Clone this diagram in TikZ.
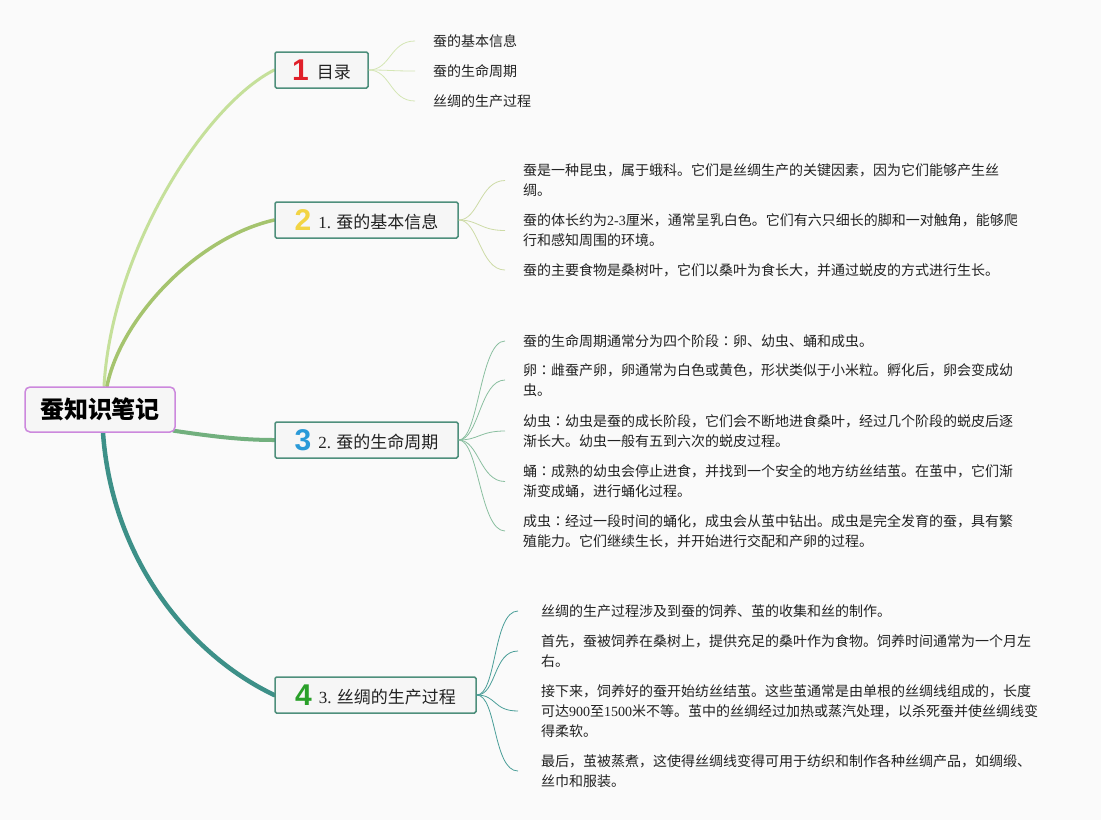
\documentclass[tikz,border=0pt]{standalone}
\usepackage{fontspec}
\setmainfont{Noto Sans CJK SC}
\newfontfamily\jpf{Noto Sans CJK JP}
\newfontfamily\latf{Liberation Serif}
\newfontfamily\numfont{Liberation Sans}
\pgfdeclarelayer{backdrop}
\pgfdeclarelayer{links}
\pgfsetlayers{backdrop,links,main}
\definecolor{bg}{HTML}{FAFAFA}
\definecolor{rootc}{HTML}{CC88DD}
\definecolor{rootfill}{HTML}{F6F6F6}
\definecolor{boxc}{HTML}{4E8F7C}
\definecolor{boxfill}{HTML}{F6F6F6}
\definecolor{txt}{HTML}{222222}
\definecolor{mainA}{HTML}{C5E09A}
\definecolor{mainB}{HTML}{A5C46E}
\definecolor{mainC}{HTML}{72B07E}
\definecolor{mainD}{HTML}{3D9088}
\definecolor{subA}{HTML}{D4E6B4}
\definecolor{subB}{HTML}{CDDBA6}
\definecolor{subC}{HTML}{8ABFA0}
\definecolor{subD}{HTML}{4A9E98}
\definecolor{numA}{HTML}{E0202A}
\definecolor{numB}{HTML}{F2D444}
\definecolor{numC}{HTML}{2A9AD8}
\definecolor{numD}{HTML}{2AA02A}
\newcommand\bignum[2]{\raisebox{-2pt}{\numfont\bfseries\fontsize{30}{30}\selectfont\color{#1}#2}}
\newcommand\la[1]{{\latf #1}}
\newcommand\cl{{\jpf ：}}
\begin{document}
\begin{tikzpicture}[x=1pt,y=-1pt,
  every node/.style={inner sep=0pt},
  rootbox/.style={draw=rootc, line width=1.5pt, fill=rootfill, rounded corners=5pt,
    minimum width=150pt, minimum height=45pt, font=\fontsize{24}{28}\selectfont\bfseries, text=black},
  branch/.style={draw=boxc, line width=1.5pt, fill=boxfill, rounded corners=1.5pt,
    minimum height=36pt, font=\fontsize{17}{20}\selectfont, text=txt},
  item/.style={anchor=west, align=left, inner xsep=18pt, font=\fontsize{14}{20}\selectfont, text=txt},
  itemw/.style={item, inner xsep=23pt},
  mainline/.style={line cap=round},
  subline/.style={line width=0.8pt}
]
\begin{pgfonlayer}{backdrop}
\fill[bg] (0,0) rectangle (1101,820);
\end{pgfonlayer}
\useasboundingbox (0,0) rectangle (1101,820);

% root and branches
\node[rootbox] (root) at (100,409.5) {蚕知识笔记};
\node[branch, minimum width=93pt] (b1) at (321.5,70) {\bignum{numA}{1}\hspace{8pt}目录};
\node[branch, minimum width=183pt] (b2) at (366.5,220) {\bignum{numB}{2}\hspace{7pt}\la{1.} 蚕的基本信息};
\node[branch, minimum width=183pt] (b3) at (366.5,440) {\bignum{numC}{3}\hspace{7pt}\la{2.} 蚕的生命周期};
\node[branch, minimum width=201pt] (b4) at (375.5,695) {\bignum{numD}{4}\hspace{7pt}\la{3.} 丝绸的生产过程};

% main connectors (behind the nodes)
\begin{pgfonlayer}{links}
\draw[mainline, mainA, line width=3pt] (root.north) ++(4,0) coordinate (r1) .. controls (112,250) and (205,105) .. (b1.west);
\draw[mainline, mainB, line width=3.5pt] (root.north) ++(7,0) coordinate (r2) .. controls (120,320) and (195,238) .. (b2.west);
\draw[mainline, mainC, line width=4pt] (root.south east) ++(-2,-2) coordinate (r3) .. controls (210,436) and (240,440) .. (b3.west);
\draw[mainline, mainD, line width=4.5pt] (root.south) ++(3,0) coordinate (r4) .. controls (112,560) and (190,655) .. (b4.west);
\end{pgfonlayer}

% branch 1 items
\node[item] (t11) at (415,41) {蚕的基本信息};
\node[item] (t12) at (415,71) {蚕的生命周期};
\node[item] (t13) at (415,101) {丝绸的生产过程};

% branch 2 items
\node[item] (t21) at (505,180.5) {蚕是一种昆虫，属于蛾科。它们是丝绸生产的关键因素，因为它们能够产生丝\\绸。};
\node[item] (t22) at (505,230.5) {蚕的体长约为\la{2-3}厘米，通常呈乳白色。它们有六只细长的脚和一对触角，能够爬\\行和感知周围的环境。};
\node[item] (t23) at (505,270) {蚕的主要食物是桑树叶，它们以桑叶为食长大，并通过蜕皮的方式进行生长。};

% branch 3 items
\node[item] (t31) at (505,341) {蚕的生命周期通常分为四个阶段\cl 卵、幼虫、蛹和成虫。};
\node[item] (t32) at (505,380) {卵\cl 雌蚕产卵，卵通常为白色或黄色，形状类似于小米粒。孵化后，卵会变成幼\\虫。};
\node[item] (t33) at (505,431) {幼虫\cl 幼虫是蚕的成长阶段，它们会不断地进食桑叶，经过几个阶段的蜕皮后逐\\渐长大。幼虫一般有五到六次的蜕皮过程。};
\node[item] (t34) at (505,481.5) {蛹\cl 成熟的幼虫会停止进食，并找到一个安全的地方纺丝结茧。在茧中，它们渐\\渐变成蛹，进行蛹化过程。};
\node[item] (t35) at (505,531) {成虫\cl 经过一段时间的蛹化，成虫会从茧中钻出。成虫是完全发育的蚕，具有繁\\殖能力。它们继续生长，并开始进行交配和产卵的过程。};

% branch 4 items
\node[itemw] (t41) at (518,611) {丝绸的生产过程涉及到蚕的饲养、茧的收集和丝的制作。};
\node[itemw] (t42) at (518,651) {首先，蚕被饲养在桑树上，提供充足的桑叶作为食物。饲养时间通常为一个月左\\右。};
\node[itemw] (t43) at (518,711) {接下来，饲养好的蚕开始纺丝结茧。这些茧通常是由单根的丝绸线组成的，长度\\可达\la{900}至\la{1500}米不等。茧中的丝绸经过加热或蒸汽处理，以杀死蚕并使丝绸线变\\得柔软。};
\node[itemw] (t44) at (518,771) {最后，茧被蒸煮，这使得丝绸线变得可用于纺织和制作各种丝绸产品，如绸缎、\\丝巾和服装。};

% sub connectors
\foreach \t in {t11,t12,t13}
  \draw[subline, subA] (b1.east) .. controls +(22,0) and +(-25,0) .. (\t.west);
\foreach \t in {t21,t22,t23}
  \draw[subline, subB] (b2.east) .. controls +(20,0) and +(-25,0) .. (\t.west);
\foreach \t in {t31,t32,t33,t34,t35}
  \draw[subline, subC] (b3.east) .. controls +(20,0) and +(-25,0) .. (\t.west);
\foreach \t in {t41,t42,t43,t44}
  \draw[subline, subD] (b4.east) .. controls +(20,0) and +(-25,0) .. (\t.west);
\end{tikzpicture}
\end{document}
